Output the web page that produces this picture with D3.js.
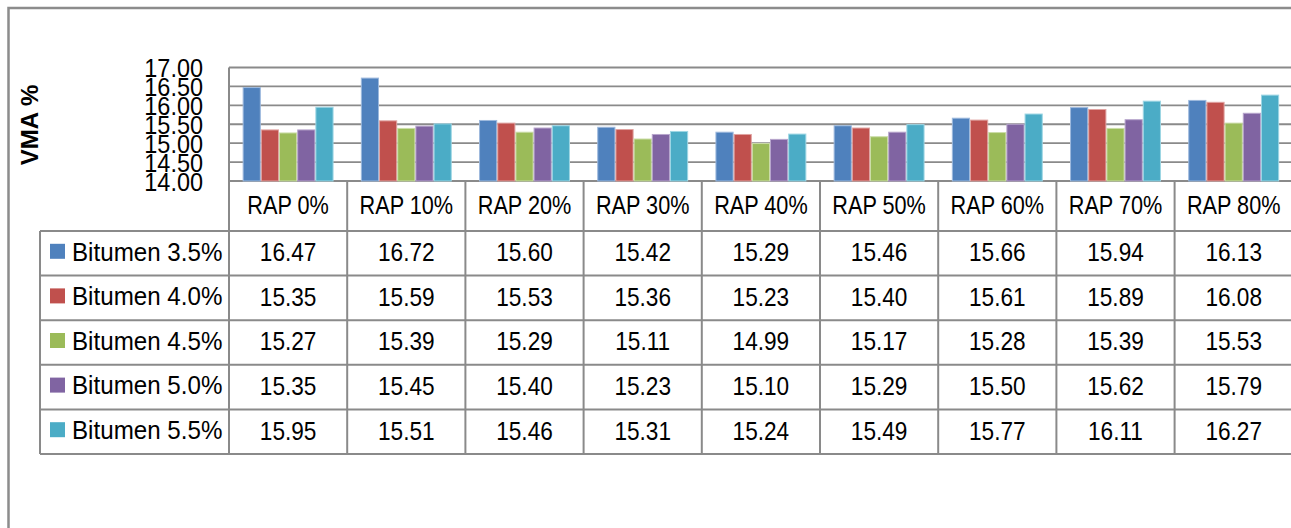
<!DOCTYPE html>
<html>
<head>
<meta charset="utf-8">
<script src="https://cdn.jsdelivr.net/npm/d3@7"></script>
<style>
  html, body { margin: 0; padding: 0; background: #fff; }
  svg { display: block; font-family: "Liberation Sans", Arial, sans-serif; }
</style>
</head>
<body>
<svg id="chart" width="1291" height="528"></svg>
<script>
// Chart data
var categories = ['RAP 0%', 'RAP 10%', 'RAP 20%', 'RAP 30%', 'RAP 40%', 'RAP 50%', 'RAP 60%', 'RAP 70%', 'RAP 80%'];
var seriesNames = ['Bitumen 3.5%', 'Bitumen 4.0%', 'Bitumen 4.5%', 'Bitumen 5.0%', 'Bitumen 5.5%'];
var bitumen35 = [16.47, 16.72, 15.60, 15.42, 15.29, 15.46, 15.66, 15.94, 16.13];
var bitumen40 = [15.35, 15.59, 15.53, 15.36, 15.23, 15.40, 15.61, 15.89, 16.08];
var bitumen45 = [15.27, 15.39, 15.29, 15.11, 14.99, 15.17, 15.28, 15.39, 15.53];
var bitumen50 = [15.35, 15.45, 15.40, 15.23, 15.10, 15.29, 15.50, 15.62, 15.79];
var bitumen55 = [15.95, 15.51, 15.46, 15.31, 15.24, 15.49, 15.77, 16.11, 16.27];
var yTicks = [14.00, 14.50, 15.00, 15.50, 16.00, 16.50, 17.00];

var seriesValues = [bitumen35, bitumen40, bitumen45, bitumen50, bitumen55];
var colors = ['#4F81BD', '#C0504D', '#9BBB59', '#8064A2', '#4BACC6'];
var edgeColors = ['#9DB9DD', '#E0A3A1', '#CBDDA8', '#B7A5CC', '#9DD6E4'];

var config = {
  plotLeft: 229,
  plotTop: 67.5,
  plotBottom: 181,
  catWidth: 118.2,
  legendLeft: 40,
  rowHeight: 44.6,
  headerBottom: 231,
  lineColor: '#8A8A8A',
  fontSize: 26,
  narrow: 0.87, // the original font is a condensed one, squeeze text sideways
};

var svg = d3.select('#chart');

// helper: text squeezed horizontally around its anchor point
function narrowText(parent, x, y, str, anchor, size, squeeze) {
  return parent.append('text')
    .attr('transform', 'translate(' + x + ',' + y + ') scale(' + squeeze + ',1)')
    .attr('dy', '0.36em')
    .attr('text-anchor', anchor)
    .attr('font-size', size + 'px')
    .attr('fill', '#000')
    .text(str);
}

// Outer chart border (runs off the right and bottom edges)
svg.append('path')
  .attr('d', 'M8.5,540 L8.5,8 L1300,8')
  .attr('fill', 'none')
  .attr('stroke', '#8C8C8C')
  .attr('stroke-width', 2.5);

// Scales
var x0 = d3.scaleBand()
  .domain(categories)
  .range([config.plotLeft, config.plotLeft + config.catWidth * categories.length])
  .padding(0);

var x1 = d3.scaleBand()
  .domain(seriesNames)
  .range([0, x0.bandwidth()])
  .paddingInner(0)
  .paddingOuter(0.75);

var y = d3.scaleLinear()
  .domain([14, 17])
  .range([config.plotBottom, config.plotTop]);

var plotRight = config.plotLeft + config.catWidth * categories.length;

// Gridlines
svg.append('g')
  .selectAll('line')
  .data(yTicks)
  .join('line')
  .attr('x1', config.plotLeft)
  .attr('x2', plotRight)
  .attr('y1', function(d) { return y(d); })
  .attr('y2', function(d) { return y(d); })
  .attr('stroke', config.lineColor)
  .attr('stroke-width', 1.8);

// Bars
var groups = svg.append('g')
  .selectAll('g')
  .data(seriesNames)
  .join('g')
  .attr('fill', function(d, i) { return colors[i]; })
  .attr('stroke', function(d, i) { return edgeColors[i]; })
  .attr('stroke-width', 1);

groups.selectAll('rect')
  .data(function(d, i) { return seriesValues[i].map(function(v, j) { return {series: d, cat: categories[j], value: v}; }); })
  .join('rect')
  .attr('x', function(d) { return x0(d.cat) + x1(d.series) + 0.5; })
  .attr('width', x1.bandwidth() - 1)
  .attr('y', function(d) { return y(d.value); })
  .attr('height', function(d) { return y(14) - y(d.value); });

// Y axis labels (axis generates the ticks, then labels are squeezed)
var yAxis = svg.append('g')
  .attr('transform', 'translate(' + config.plotLeft + ',0)')
  .call(d3.axisLeft(y).tickValues(yTicks).tickSize(0).tickPadding(26).tickFormat(d3.format('.2f')));
yAxis.select('.domain').remove();
yAxis.selectAll('text')
  .attr('font-family', '"Liberation Sans", Arial, sans-serif')
  .attr('font-size', '25.5px')
  .attr('fill', '#000')
  .attr('dy', '0.36em')
  .attr('transform', 'scale(0.92,1)')
  .attr('x', -26 / 0.92);

// Y axis title
svg.append('text')
  .attr('transform', 'translate(38,125) rotate(-90)')
  .attr('text-anchor', 'middle')
  .attr('font-size', '24px')
  .attr('font-weight', 'bold')
  .text('VMA %');

// Data table
var tableBottom = config.headerBottom + config.rowHeight * seriesNames.length;
var table = svg.append('g')
  .attr('stroke', config.lineColor)
  .attr('stroke-width', 2);

// plot-area left border down through the table
table.append('line')
  .attr('x1', config.plotLeft).attr('x2', config.plotLeft)
  .attr('y1', config.plotTop).attr('y2', tableBottom);

// category column separators
table.selectAll('line.col')
  .data(categories)
  .join('line')
  .attr('class', 'col')
  .attr('x1', function(d) { return x0(d) + x0.bandwidth(); })
  .attr('x2', function(d) { return x0(d) + x0.bandwidth(); })
  .attr('y1', config.plotBottom)
  .attr('y2', tableBottom);

// legend column left border
table.append('line')
  .attr('x1', config.legendLeft).attr('x2', config.legendLeft)
  .attr('y1', config.headerBottom).attr('y2', tableBottom);

// horizontal rows
var rowLines = d3.range(seriesNames.length + 1).map(function(i) { return config.headerBottom + i * config.rowHeight; });
table.selectAll('line.row')
  .data(rowLines)
  .join('line')
  .attr('class', 'row')
  .attr('x1', config.legendLeft)
  .attr('x2', plotRight)
  .attr('y1', function(d) { return d; })
  .attr('y2', function(d) { return d; });

// Category header labels
var headerG = svg.append('g');
categories.forEach(function(c) {
  narrowText(headerG, x0(c) + x0.bandwidth() / 2, (config.plotBottom + config.headerBottom) / 2 - 1,
    c, 'middle', 25.5, 0.85);
});

// Rows: legend key, name, values
var rowsG = svg.append('g');
seriesNames.forEach(function(name, i) {
  var rowMid = config.headerBottom + config.rowHeight * (i + 0.5);
  rowsG.append('rect')
    .attr('x', 50)
    .attr('y', rowMid - 9.5)
    .attr('width', 15)
    .attr('height', 15)
    .attr('fill', colors[i]);
  narrowText(rowsG, 72, rowMid - 2, name, 'start', config.fontSize, 0.93);
  seriesValues[i].forEach(function(v, j) {
    narrowText(rowsG, x0(categories[j]) + x0.bandwidth() / 2, rowMid - 1.5,
      d3.format('.2f')(v), 'middle', config.fontSize, config.narrow);
  });
});
</script>
</body>
</html>
